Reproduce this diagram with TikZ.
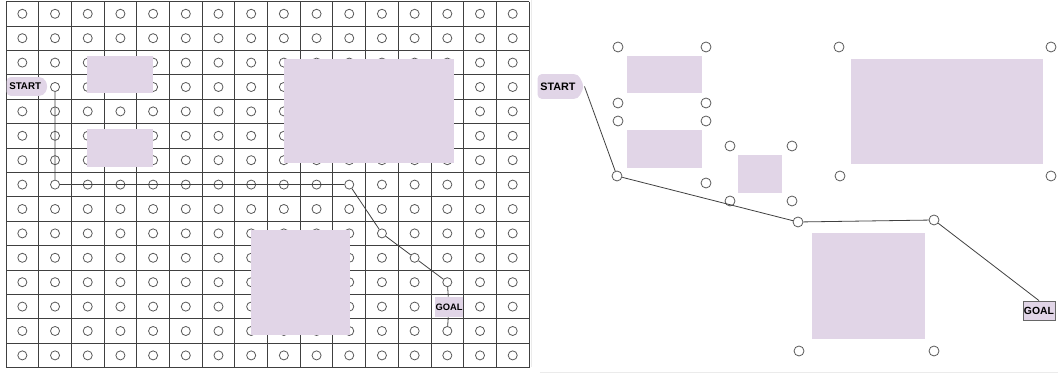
\documentclass[tikz,border=0pt]{standalone}
\usepackage{fontspec}
\setmainfont{Liberation Sans}
\usetikzlibrary{shapes.symbols}
\definecolor{lav}{HTML}{E1D5E7}
\begin{document}
\begin{tikzpicture}[x=0.75pt,y=-0.75pt,
  gridline/.style={draw=black!75, line width=0.7pt},
  dot/.style={circle, draw=black!65, line width=0.6pt, fill=white, inner sep=0pt, minimum size=6.8pt},
  bigdot/.style={dot, minimum size=7.5pt},
  obst/.style={fill=lav},
  startbox/.style={shape=signal, signal to=east, signal pointer angle=128, fill=lav, rounded corners=3pt, font=\bfseries, inner xsep=2pt, inner ysep=2pt},
  goalbox/.style={rectangle, fill=lav, inner sep=0pt, font=\bfseries},
  route/.style={draw=black!75, line width=0.6pt},
  faint/.style={draw=black!8, line width=0.6pt}
]
\useasboundingbox (0,0) rectangle (1058,373);

% ---------- left panel: grid ----------
\foreach \i in {0,...,16} \draw[gridline] ({6+32.69*\i},1.6) -- ({6+32.69*\i},367.6);
\foreach \j in {0,...,15} \draw[gridline] (6,{1.6+24.4*\j}) -- (529,{1.6+24.4*\j});
\foreach \i in {0,...,15} \foreach \j in {0,...,14}
  \node[dot] (g-\i-\j) at ({6+32.69*(\i+0.5)},{1.6+24.4*(\j+0.5)}) {};

% obstacles
\fill[obst] (87,56) rectangle (153,93);
\fill[obst] (87,129) rectangle (153,167);
\fill[obst] (284,59) rectangle (454,163);
\fill[obst] (251,230) rectangle (350,335);

\node[startbox, anchor=east, font=\bfseries\fontsize{7.3}{8}\selectfont, minimum height=14pt] (startL) at (48.5,86.5) {START};
\node[goalbox, minimum width=21pt, minimum height=15pt, font=\bfseries\fontsize{7}{8}\selectfont] (goalL) at (449,307) {GOAL};

\draw[route] (g-1-3) -- (g-1-7) -- (g-10-7) -- (g-11-9) -- (g-12-10) -- (g-13-11) -- (goalL);
\draw[route] (goalL) -- (g-13-13);

% ---------- right panel ----------
\draw[faint] (531,0) -- (531,367);
\draw[faint] (540,372) -- (1058,372);

\fill[obst] (627,56) rectangle (702,93);
\fill[obst] (627,130) rectangle (702,168);
\fill[obst] (738,155) rectangle (782,193);
\fill[obst] (851,59) rectangle (1043,164);
\fill[obst] (812,233) rectangle (925,339);

\node[bigdot] (a1) at (618,47) {};
\node[bigdot] (a2) at (706,47) {};
\node[bigdot] (a3) at (618,103) {};
\node[bigdot] (a4) at (706,103) {};
\node[bigdot] (a5) at (618,121) {};
\node[bigdot] (a6) at (706,121) {};
\node[bigdot] (p1) at (617,176) {};
\node[bigdot] (a7) at (706,183) {};
\node[bigdot] (b1) at (730,146) {};
\node[bigdot] (b2) at (792,146) {};
\node[bigdot] (b3) at (730,201) {};
\node[bigdot] (b4) at (792,201) {};
\node[bigdot] (p2) at (798,222) {};
\node[bigdot] (c1) at (839,47) {};
\node[bigdot] (c2) at (1051,47) {};
\node[bigdot] (c3) at (840,176) {};
\node[bigdot] (c4) at (1051,176) {};
\node[bigdot] (p3) at (934,220) {};
\node[bigdot] (d1) at (799,351) {};
\node[bigdot] (d2) at (934,351) {};

\node[startbox, anchor=east, font=\bfseries\fontsize{8.1}{9}\selectfont, minimum height=18.5pt] (startR) at (584.5,86.5) {START};
\node[goalbox, draw=black!60, line width=0.6pt, minimum width=24pt, minimum height=14.25pt, font=\bfseries\fontsize{7.8}{9}\selectfont] (goalR) at (1039,310.5) {GOAL};

\draw[route] (startR.east) -- (p1) -- (p2) -- (p3) -- (goalR.north);
\end{tikzpicture}
\end{document}
